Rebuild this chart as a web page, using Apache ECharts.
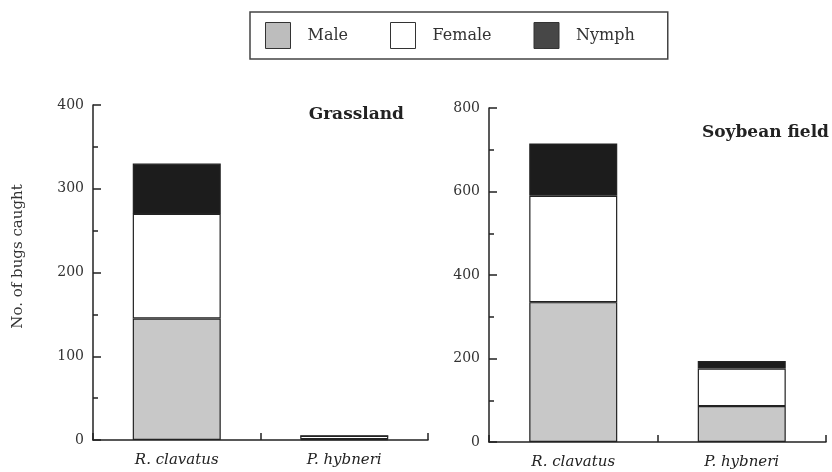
<!DOCTYPE html>
<html>
<head>
<meta charset="utf-8">
<script src="https://cdn.jsdelivr.net/npm/echarts@6/dist/echarts.min.js"></script>
<style>html,body{margin:0;padding:0;background:#fff}#c{width:832px;height:472px}</style>
</head>
<body>
<div id="c"></div>
<script>
// ---- data ----
var categories = ['R. clavatus', 'P. hybneri'];
var panelTitles = ['Grassland', 'Soybean field'];
var seriesNames = ['Male', 'Female', 'Nymph'];
var grassMale = [145, 1];
var grassFemale = [125, 4];
var grassNymph = [60, 0];
var soyMale = [335, 86];
var soyFemale = [255, 90];
var soyNymph = [125, 18];
var grassTicks = {min: 0, max: 400, interval: 100};
var soyTicks = {min: 0, max: 800, interval: 200};
var yAxisTitle = 'No. of bugs caught';

var FONT = 'DejaVu Serif';
var colors = {Male: '#c8c8c8', Female: '#ffffff', Nymph: '#1c1c1c'};
var legendColors = {Male: '#bdbdbd', Female: '#ffffff', Nymph: '#474747'};

function yAxisCfg(idx, t, withName) {
  var a = {
    type: 'value', gridIndex: idx, min: t.min, max: t.max, interval: t.interval,
    axisLine: {show: true, lineStyle: {color: '#222', width: 1.5}},
    axisTick: {show: true, inside: true, length: 8, lineStyle: {color: '#222', width: 1.5}},
    minorTick: {show: true, splitNumber: 2, length: 5, lineStyle: {color: '#222', width: 1.5}},
    splitLine: {show: false},
    axisLabel: {color: '#333', fontFamily: FONT, fontSize: 14, margin: 9}
  };
  if (withName) {
    a.name = yAxisTitle;
    a.nameLocation = 'middle';
    a.nameRotate = 90;
    a.nameGap = 67;
    a.nameTextStyle = {color: '#333', fontFamily: FONT, fontSize: 15, padding: [0, 0, 0, 32]};
  }
  return a;
}
function xAxisCfg(idx) {
  return {
    type: 'category', gridIndex: idx, data: categories,
    axisLine: {show: true, lineStyle: {color: '#222', width: 1.5}},
    axisTick: {show: true, inside: true, length: 7, lineStyle: {color: '#222', width: 1.5}},
    axisLabel: {color: '#222', fontFamily: FONT, fontStyle: 'italic', fontSize: 15, margin: 13}
  };
}
function barSeries(name, data, idx) {
  return {
    name: name, type: 'bar', stack: 's' + idx, xAxisIndex: idx, yAxisIndex: idx,
    data: data, barWidth: 88,
    itemStyle: {color: colors[name], borderColor: '#222', borderWidth: 1.2},
    emphasis: {disabled: true}
  };
}

var chart = echarts.init(document.getElementById('c'), null, {renderer: 'canvas'});
chart.setOption({
  animation: false,
  backgroundColor: '#fff',
  title: [
    {text: panelTitles[0], right: 423, top: 101, textStyle: {fontFamily: FONT, fontWeight: 'bold', fontSize: 17, color: '#222'}},
    {text: panelTitles[1], right: -2, top: 119, textStyle: {fontFamily: FONT, fontWeight: 'bold', fontSize: 17, color: '#222'}}
  ],
  legend: {
    left: 250, top: 12,
    padding: [10, 33, 10, 15],
    borderColor: '#444', borderWidth: 1.5,
    itemWidth: 25, itemHeight: 26, itemGap: 42,
    textStyle: {fontFamily: FONT, fontSize: 16, color: '#333', padding: [0, 0, 0, 12]},
    data: seriesNames.map(function (n) {
      return {name: n, icon: 'rect', itemStyle: {color: legendColors[n], borderColor: '#333', borderWidth: 1}};
    })
  },
  grid: [
    {left: 93, top: 105, width: 335, height: 335},
    {left: 489, top: 108, width: 337, height: 334}
  ],
  xAxis: [xAxisCfg(0), xAxisCfg(1)],
  yAxis: [yAxisCfg(0, grassTicks, true), yAxisCfg(1, soyTicks, false)],
  series: [
    barSeries('Male', grassMale, 0),
    barSeries('Female', grassFemale, 0),
    barSeries('Nymph', grassNymph, 0),
    barSeries('Male', soyMale, 1),
    barSeries('Female', soyFemale, 1),
    barSeries('Nymph', soyNymph, 1)
  ]
});
</script>
</body>
</html>
